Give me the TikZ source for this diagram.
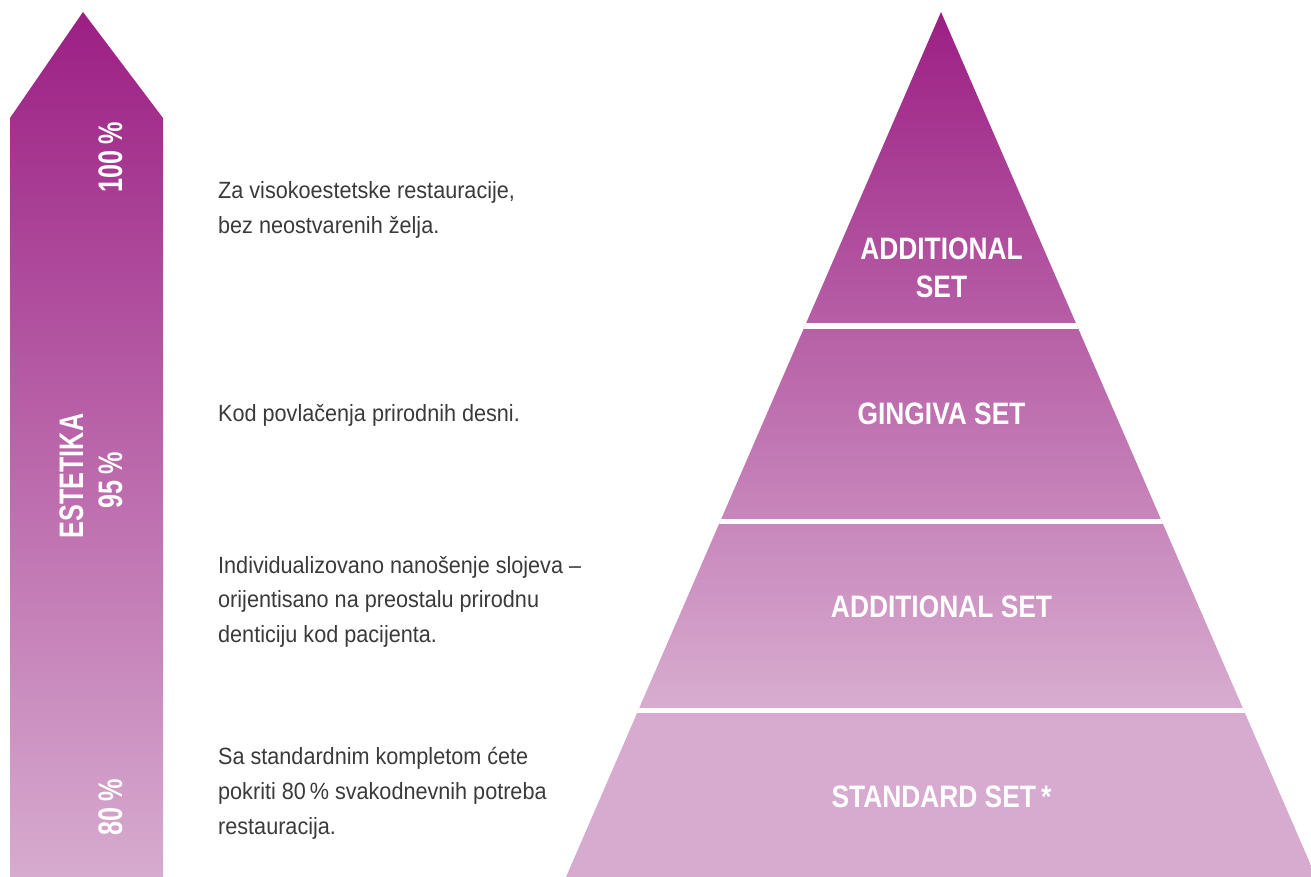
\documentclass[tikz,border=0pt]{standalone}
\usepackage{fontspec}
\setmainfont{Liberation Sans}
\newfontfamily\bodyfont[FakeStretch=0.92]{Liberation Sans}
\newfontfamily\labelfont[FakeStretch=0.85]{Liberation Sans}
\newfontfamily\vlabelfont[FakeStretch=0.74]{Liberation Sans}
\definecolor{ctop}{HTML}{9C1F84}
\definecolor{cbot}{HTML}{D7ABCF}
\definecolor{ctext}{HTML}{3A3A3A}
\tikzset{
  bodytext/.style={anchor=base west, inner sep=0pt, text=ctext, font=\bodyfont\fontsize{23.5}{28}\selectfont},
  setlabel/.style={anchor=base, inner sep=0pt, text=white, font=\labelfont\bfseries\fontsize{31}{36}\selectfont},
  vlabel/.style={anchor=base, inner sep=0pt, rotate=90, text=white, font=\vlabelfont\bfseries\fontsize{34}{40}\selectfont},
}
\begin{document}
\begin{tikzpicture}[x=1pt,y=-1pt]
\useasboundingbox (0,0) rectangle (1311,877);
% arrow
\shade[top color=ctop, bottom color=cbot] (83,12) -- (163,118) -- (163,877) -- (10,877) -- (10,118) -- cycle;
% pyramid
\begin{scope}
  \clip (941,12) -- (1316,877) -- (566,877) -- cycle;
  \shade[top color=ctop, bottom color=cbot] (560,12) rectangle (1320,700);
  \fill[cbot] (560,699) rectangle (1320,877);
  \fill[white] (560,323) rectangle (1320,328.5);
  \fill[white] (560,518.5) rectangle (1320,524);
  \fill[white] (560,707.5) rectangle (1320,713);
\end{scope}
% pyramid labels
\node[setlabel] (l1a) at (941.5,260) {ADDITIONAL};
\node[setlabel] (l1b) at (941.5,298) {SET};
\node[setlabel] (l2) at (941.5,424) {GINGIVA SET};
\node[setlabel] (l3) at (941.5,617) {ADDITIONAL SET};
\node[setlabel] (l4) at (941.5,807) {STANDARD SET\,*};
% vertical labels
\node[vlabel] (v100) at (122,157) {100\,\%};
\node[vlabel] (vest) at (83,476) {ESTETIKA};
\node[vlabel] (v95) at (122,480) {95\,\%};
\node[vlabel] (v80) at (122,807) {80\,\%};
% descriptions
\node[bodytext] (t1a) at (218,199) {Za visokoestetske restauracije,};
\node[bodytext] (t1b) at (218,234) {bez neostvarenih želja.};
\node[bodytext] (t2) at (218,421) {Kod povlačenja prirodnih desni.};
\node[bodytext] (t3a) at (218,573) {Individualizovano nanošenje slojeva –};
\node[bodytext] (t3b) at (218,607.5) {orijentisano na preostalu prirodnu};
\node[bodytext] (t3c) at (218,642) {denticiju kod pacijenta.};
\node[bodytext] (t4a) at (218,764) {Sa standardnim kompletom ćete};
\node[bodytext] (t4b) at (218,799) {pokriti 80\,\% svakodnevnih potreba};
\node[bodytext] (t4c) at (218,834) {restauracija.};
\end{tikzpicture}
\end{document}
